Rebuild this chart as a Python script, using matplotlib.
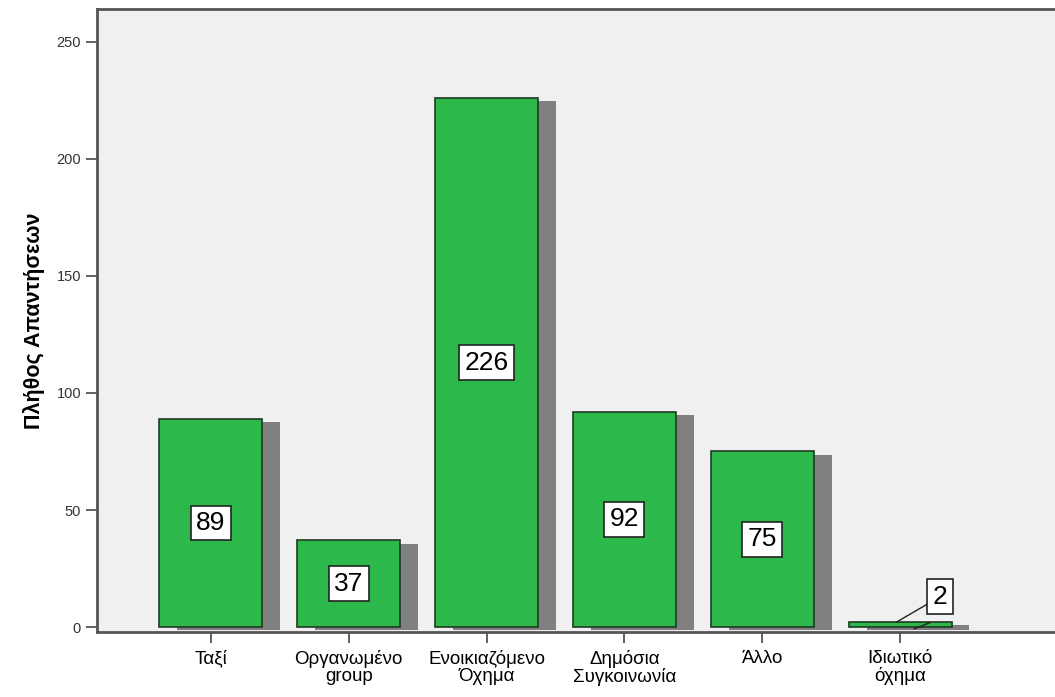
import matplotlib.pyplot as plt
import numpy as np

categories = ["Ταξί", "Οργανωμένο\ngroup", "Ενοικιαζόμενο\nΌχημα", "Δημόσια\nΣυγκοινωνία", "Άλλο", "Ιδιωτικό\nόχημα"]
counts = [89, 37, 226, 92, 75, 2]
y_ticks = [0, 50, 100, 150, 200, 250]

bar_color = "#2DB84B"
shadow_color = "#808080"
bg_color = "#F0F0F0"
spine_color = "#555555"

plt.rcParams['font.family'] = ['Liberation Sans', 'DejaVu Sans']

fig = plt.figure(figsize=(10.55, 6.97), dpi=100)
ax = fig.add_axes([97 / 1055, 1 - 632 / 697, 1 - 97 / 1055 + 0.01, (632 - 9) / 697])
ax.set_facecolor(bg_color)

x = np.arange(len(categories))
width = 0.746

# drop shadow behind the bars
ax.bar(x + 0.13, counts, width, bottom=-1.3, color=shadow_color, zorder=1)
ax.bar(x, counts, width, color=bar_color, edgecolor="#1f3a22", linewidth=1.2, zorder=2)

box = dict(boxstyle="square,pad=0.2", facecolor="white", edgecolor="#222222", linewidth=1.2)
for xi, v in zip(x, counts):
    if v > 10:
        ax.text(xi, v / 2, str(v), ha="center", va="center", fontsize=19,
                bbox=box, zorder=4)
    else:
        ax.annotate(str(v), xy=(xi - 0.03, v), xytext=(xi + 0.29, v + 11),
                    ha="center", va="center", fontsize=19, bbox=box, zorder=4,
                    arrowprops=dict(arrowstyle="-", color="#222222", lw=1.0,
                                    shrinkA=0, shrinkB=0))
        ax.annotate("", xy=(xi + 0.1, v - 2.8), xytext=(xi + 0.22, v),
                    arrowprops=dict(arrowstyle="-", color="#222222", lw=1.0,
                                    shrinkA=0, shrinkB=0), zorder=4)

ax.set_xlim(-0.826, 6.2)
ax.set_ylim(-2.1, 264)
ax.set_yticks(y_ticks)
ax.set_yticklabels([str(t) for t in y_ticks], fontsize=10.5, color="#333333")
ax.set_xticks(x)
ax.set_xticklabels(categories, fontsize=13.5, linespacing=1.0)
ax.tick_params(axis="both", direction="out", length=8, width=1.3, color=spine_color)
ax.tick_params(axis="x", pad=5)

ax.set_ylabel("Πλήθος Απαντήσεων", fontsize=15.5, fontweight="bold", labelpad=8)

for side in ["left", "top", "bottom"]:
    ax.spines[side].set_color(spine_color)
    ax.spines[side].set_linewidth(2)
ax.spines["right"].set_visible(False)

plt.savefig("out.png", dpi=100)
